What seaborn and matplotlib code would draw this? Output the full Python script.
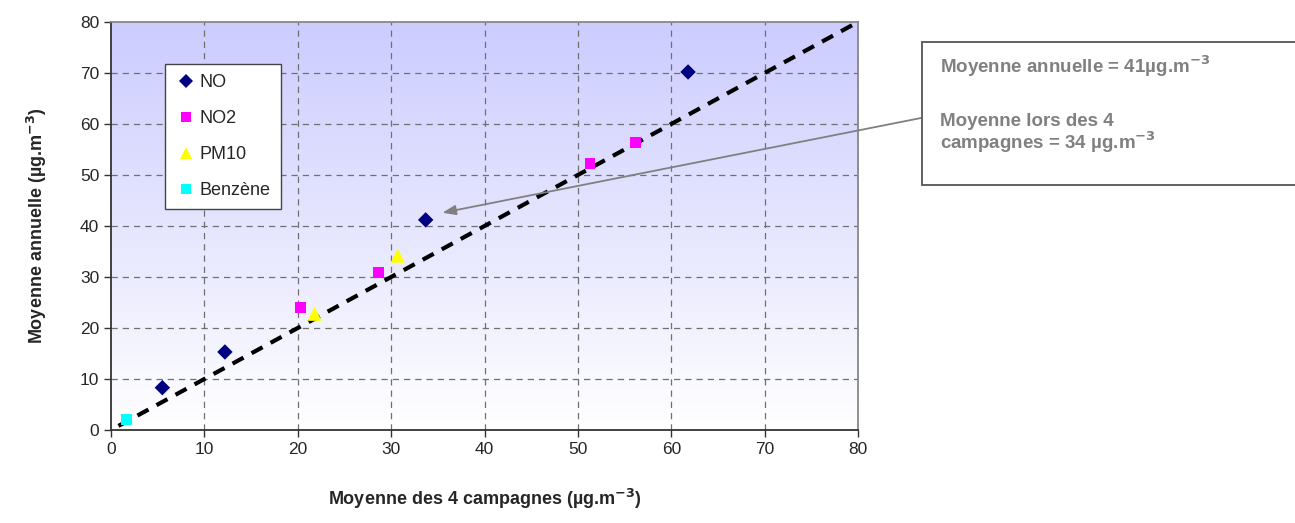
import numpy as np
import pandas as pd
import matplotlib
matplotlib.use("Agg")
import matplotlib.pyplot as plt
from matplotlib.colors import LinearSegmentedColormap
from matplotlib.patches import Rectangle
import seaborn as sns

# ---- data ----
no_x = [5.5, 12.2, 33.7, 61.8]
no_y = [8.3, 15.3, 41.2, 70.2]
no2_x = [20.3, 28.6, 51.3, 56.2]
no2_y = [24.1, 30.8, 52.3, 56.3]
pm10_x = [21.8, 30.7]
pm10_y = [22.8, 34.2]
benz_x = [1.7]
benz_y = [2.1]
trend_x = [0.8, 80]
trend_y = [0.8, 80]
ticks = [0, 10, 20, 30, 40, 50, 60, 70, 80]

sns.set_style("white")
plt.rcParams['font.family'] = ['Liberation Sans', 'DejaVu Sans']
plt.rcParams['mathtext.default'] = 'bf'

df = pd.DataFrame({
    "x": no_x + no2_x + pm10_x + benz_x,
    "y": no_y + no2_y + pm10_y + benz_y,
    "s": ["NO"] * len(no_x) + ["NO2"] * len(no2_x) + ["PM10"] * len(pm10_x) + ["Benzène"] * len(benz_x),
})
order = ["NO", "NO2", "PM10", "Benzène"]
palette = {"NO": "#000080", "NO2": "#ff00ff", "PM10": "#ffff00", "Benzène": "#00ffff"}
markers = {"NO": "D", "NO2": "s", "PM10": "^", "Benzène": "s"}
msizes = {"NO": 62, "NO2": 62, "PM10": 105, "Benzène": 62}

fig = plt.figure(figsize=(12.95, 5.23), dpi=100)
ax = fig.add_axes([111/1295, 1-430/523, (858-111)/1295, (430-22)/523])

cmap = LinearSegmentedColormap.from_list("bg", ["#ffffff", "#ccccff"])
grad = np.linspace(0, 1, 256).reshape(-1, 1)
ax.imshow(grad, extent=[0, 80, 0, 80], origin="lower", aspect="auto", cmap=cmap, zorder=0)

for v in ticks[1:-1]:
    ax.axvline(v, color="#707070", lw=0.9, ls=(0, (5, 4)), zorder=1)
    ax.axhline(v, color="#707070", lw=0.9, ls=(0, (5, 4)), zorder=1)

sns.lineplot(x=trend_x, y=trend_y, ax=ax, color="black", lw=3, linestyle=(0, (3, 2.2)), zorder=2)

sns.scatterplot(data=df, x="x", y="y", hue="s", style="s", size="s", hue_order=order, style_order=order,
                size_order=order, sizes=msizes, palette=palette, markers=markers, linewidth=0,
                ax=ax, zorder=3)

ax.set_xlim(0, 80)
ax.set_ylim(0, 80)
ax.set_xticks(ticks)
ax.set_yticks(ticks)
ax.tick_params(axis="both", labelsize=12.5, length=5, width=1, direction="out", color="#333333",
               bottom=True, left=True)
for side in ["left", "bottom"]:
    ax.spines[side].set_color("#333333")
    ax.spines[side].set_linewidth(1.3)
for side in ["top", "right"]:
    ax.spines[side].set_color("#888888")
    ax.spines[side].set_linewidth(1.3)

ax.set_xlabel(r"Moyenne des 4 campagnes (µg.m$^{-3}$)", fontsize=13, fontweight="bold", labelpad=22)
ax.set_ylabel(r"Moyenne annuelle (µg.m$^{-3}$)", fontsize=13, fontweight="bold", labelpad=22)

leg = ax.legend(loc="upper left", bbox_to_anchor=(0.072, 0.897), fontsize=13, frameon=True,
                fancybox=False, edgecolor="#444444", framealpha=1, labelspacing=1.05,
                handletextpad=0.1, borderpad=0.55, handlelength=1.3, markerscale=0.9,
                borderaxespad=0)
leg.get_frame().set_linewidth(1.0)

# annotation box
rect = Rectangle((922/1295, 1-185/523), (1300-922)/1295, (185-42)/523, transform=fig.transFigure,
                 facecolor="white", edgecolor="#555555", lw=1.3, clip_on=False)
fig.patches.append(rect)
tc = "#808080"
fig.text(940/1295, 1-66/523, r"Moyenne annuelle = 41µg.m$^{-3}$", color=tc, fontsize=13.5,
         fontweight="bold", va="center", ha="left")
fig.text(940/1295, 1-122/523, "Moyenne lors des 4", color=tc, fontsize=13.5,
         fontweight="bold", va="center", ha="left")
fig.text(940/1295, 1-142/523, r"campagnes = 34 µg.m$^{-3}$", color=tc, fontsize=13.5,
         fontweight="bold", va="center", ha="left")

ax.annotate("", xy=(35.5, 42.6), xycoords="data", xytext=(921/1295, 1-118/523),
            textcoords="figure fraction",
            arrowprops=dict(arrowstyle="-|>,head_length=0.8,head_width=0.3", color="#808080", lw=1.3,
                            shrinkA=0, shrinkB=0), annotation_clip=False)

fig.savefig("out.png", dpi=100)
